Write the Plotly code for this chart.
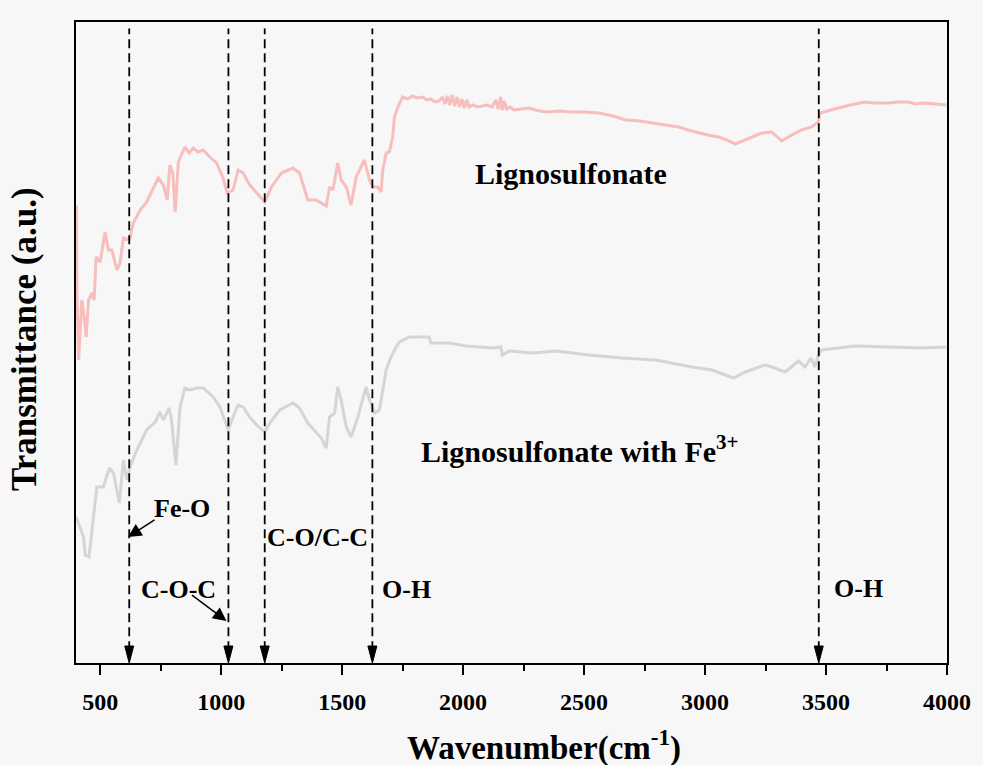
import plotly.graph_objects as go

# ---------------- data ----------------
ligno_wn = [401, 404, 411, 424, 434, 442, 452, 466, 475, 483, 500, 520, 534, 548, 569, 582, 596,
            621, 637, 665, 692, 713, 740, 761, 777, 788, 800, 810, 823, 850, 868, 884, 905, 926,
            953, 981, 1008, 1025, 1049, 1070, 1091, 1118, 1146, 1180, 1208, 1249, 1297, 1324,
            1358, 1393, 1434, 1448, 1462, 1482, 1496, 1517, 1537, 1558, 1592, 1613, 1627, 1647,
            1661, 1668, 1682, 1695, 1709, 1716, 1730, 1750, 1770, 1791, 1810, 1833, 1850, 1867,
            1885, 1901, 1915, 1925, 1935, 1945, 1955, 1965, 1975, 1985, 1995, 2005, 2015, 2025,
            2040, 2060, 2080, 2100, 2120, 2135, 2145, 2155, 2162, 2170, 2180, 2195, 2210, 2240,
            2273, 2300, 2341, 2400, 2450, 2500, 2561, 2620, 2671, 2730, 2781, 2840, 2891, 2930,
            2973, 3010, 3056, 3090, 3125, 3166, 3200, 3234, 3276, 3317, 3358, 3399, 3440, 3468,
            3475, 3510, 3551, 3600, 3661, 3700, 3757, 3800, 3839, 3870, 3908, 3950, 3997]
ligno_t = [45.8, 36.6, 30.3, 36.3, 34.6, 32.6, 36.3, 37.0, 36.3, 40.6, 40.1, 43.1, 41.3, 41.3, 39.3,
           40.0, 42.5, 42.3, 44.0, 45.3, 46.1, 47.1, 48.5, 47.8, 46.3, 49.8, 49.0, 45.1, 50.1,
           51.6, 51.0, 51.5, 51.1, 51.3, 50.6, 50.0, 48.5, 47.0, 47.3, 49.3, 49.0, 47.8, 47.0,
           46.1, 47.6, 49.0, 49.5, 49.0, 46.3, 46.3, 45.7, 47.6, 47.3, 50.0, 48.3, 47.6, 45.8,
           48.6, 50.3, 48.3, 47.6, 47.6, 47.1, 49.3, 51.0, 51.1, 52.6, 54.6, 55.6, 56.6, 56.4,
           56.7, 56.5, 56.6, 56.3, 56.4, 56.1, 56.2, 56.6, 55.9, 56.7, 55.8, 56.8, 55.7, 56.6,
           55.6, 56.4, 55.5, 56.3, 55.6, 55.8, 55.6, 55.7, 55.8, 55.6, 56.3, 55.4, 56.6, 55.3,
           56.2, 55.4, 55.6, 55.3, 55.4, 55.5, 55.3, 55.1, 55.2, 55.1, 55.1, 55.0, 54.7, 54.3,
           54.2, 54.0, 53.8, 53.6, 53.3, 53.0, 52.8, 52.6, 52.3, 51.9, 52.3, 52.7, 53.0, 53.1,
           52.2, 52.8, 53.3, 53.6, 54.1, 55.0, 55.2, 55.5, 55.8, 56.1, 56.0, 56.0, 56.1, 56.1,
           55.9, 56.0, 55.9, 55.8]

fe_wn = [401, 431, 438, 454, 486, 513, 538, 555, 579, 596, 610, 623, 651, 692, 727, 747, 761, 785,
         795, 813, 830, 850, 871, 898, 926, 967, 995, 1015, 1029, 1049, 1070, 1091, 1118, 1146,
         1180, 1201, 1242, 1297, 1324, 1358, 1393, 1414, 1434, 1448, 1469, 1482, 1496, 1517,
         1537, 1565, 1599, 1613, 1634, 1654, 1668, 1682, 1702, 1723, 1737, 1778, 1860, 1867,
         1943, 2012, 2121, 2156, 2162, 2190, 2286, 2383, 2520, 2657, 2795, 2946, 3028, 3118,
         3166, 3248, 3276, 3331, 3386, 3413, 3438, 3454, 3468, 3482, 3620, 3757, 3894, 3997]
fe_t = [14.6, 12.6, 10.8, 10.6, 17.6, 17.6, 19.5, 19.0, 16.0, 20.3, 18.3, 19.6, 21.3, 23.3, 24.1,
        25.1, 24.3, 25.5, 24.3, 19.8, 25.6, 27.5, 27.3, 27.5, 27.5, 26.6, 25.6, 24.3, 23.3, 24.6,
        25.8, 25.6, 24.6, 23.8, 23.1, 24.0, 25.3, 26.0, 25.5, 24.0, 23.0, 22.5, 21.5, 24.6, 25.0,
        27.6, 26.3, 23.6, 22.6, 24.6, 27.6, 26.3, 25.0, 25.3, 27.3, 29.3, 30.6, 31.6, 32.1, 32.6,
        32.6, 32.0, 32.0, 31.7, 31.5, 31.6, 30.8, 31.2, 31.0, 31.2, 30.8, 30.5, 30.3, 29.6, 29.3,
        28.5, 29.1, 29.8, 29.6, 29.1, 30.2, 29.6, 30.5, 29.6, 30.8, 31.3, 31.7, 31.6, 31.5, 31.6]

peak_positions = [620, 1030, 1180, 1625, 3470]
x_ticks = [500, 1000, 1500, 2000, 2500, 3000, 3500, 4000]
x_minor_ticks = [750, 1250, 1750, 2250, 2750, 3250, 3750]

FONT = "Liberation Serif, Times New Roman, serif"

fig = go.Figure()
fig.add_trace(go.Scatter(x=ligno_wn, y=ligno_t, mode="lines",
                         line=dict(color="#f8bdbd", width=3), showlegend=False))
fig.add_trace(go.Scatter(x=fe_wn, y=fe_t, mode="lines",
                         line=dict(color="#d5d5d5", width=3), showlegend=False))

shapes = []
for p in peak_positions:
    shapes.append(dict(type="line", xref="x", yref="paper", x0=p, x1=p, y0=0.02, y1=0.99,
                       line=dict(color="black", width=1.8, dash="9px,5px")))
    shapes.append(dict(type="path", xref="x", yref="y", xsizemode="pixel", ysizemode="pixel",
                       xanchor=p, yanchor=0, path="M-4.5,17 L4.5,17 L0,0 Z",
                       fillcolor="black", line=dict(color="black", width=1)))

lab_font = dict(family=FONT, size=30, color="black", weight="bold")
small_font = dict(family=FONT, size=26, color="black", weight="bold")
annotations = [
    dict(x=2446, y=49.0, xref="x", yref="y", text="Lignosulfonate", showarrow=False, font=lab_font),
    dict(x=2483, y=21.4, xref="x", yref="y", text="Lignosulfonate with Fe<sup>3+</sup>",
         showarrow=False, font=lab_font),
    dict(x=840, y=15.5, xref="x", yref="y", text="Fe-O", showarrow=False, font=small_font),
    dict(x=825, y=7.4, xref="x", yref="y", text="C-O-C", showarrow=False, font=small_font),
    dict(x=1398, y=12.6, xref="x", yref="y", text="C-O/C-C", showarrow=False, font=small_font),
    dict(x=1765, y=7.4, xref="x", yref="y", text="O-H", showarrow=False, font=small_font),
    dict(x=3633, y=7.5, xref="x", yref="y", text="O-H", showarrow=False, font=small_font),
    # arrows
    dict(x=615, y=12.6, xref="x", yref="y", ax=28, ay=-18, text="", showarrow=True,
         arrowhead=2, arrowsize=1.8, arrowwidth=1.5, arrowcolor="black", standoff=0),
    dict(x=1022, y=4.2, xref="x", yref="y", ax=-36, ay=-27, text="", showarrow=True,
         arrowhead=2, arrowsize=1.8, arrowwidth=1.5, arrowcolor="black", standoff=0),
    # axis titles
    dict(x=0.537, y=-0.128, xref="paper", yref="paper", text="Wavenumber(cm<sup>-1</sup>)",
         showarrow=False, xanchor="center", yanchor="middle",
         font=dict(family=FONT, size=33, color="black", weight="bold")),
    dict(x=-0.0585, y=0.5055, xref="paper", yref="paper", text="Transmittance (a.u.)",
         showarrow=False, textangle=-90, xanchor="center", yanchor="middle",
         font=dict(family=FONT, size=35, color="black", weight="bold")),
]

fig.update_layout(
    width=983, height=765,
    margin=dict(l=76, r=34, t=22, b=102),
    paper_bgcolor="#f7f7f7", plot_bgcolor="#f7f7f7",
    shapes=shapes, annotations=annotations,
    xaxis=dict(range=[400, 4000], tickvals=x_ticks, ticktext=[str(v) for v in x_ticks],
               ticks="outside", ticklen=10, tickwidth=2, tickcolor="black",
               ticklabelstandoff=6,
               minor=dict(tickvals=x_minor_ticks, ticks="outside",
                          ticklen=6, tickwidth=2, tickcolor="black"),
               showline=True, linecolor="black", linewidth=2, mirror=True,
               showgrid=False, zeroline=False,
               tickfont=dict(family=FONT, size=24, color="black", weight="bold")),
    yaxis=dict(range=[0, 64.1], showticklabels=False, ticks="", showline=True,
               linecolor="black", linewidth=2, mirror=True, showgrid=False, zeroline=False),
)

fig.write_html("out.html")
